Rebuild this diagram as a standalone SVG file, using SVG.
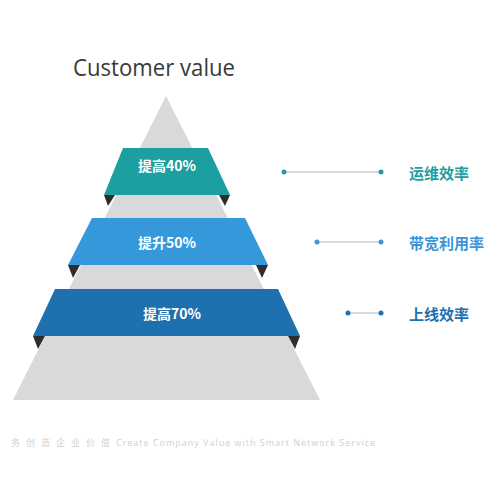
<svg xmlns="http://www.w3.org/2000/svg" width="500" height="500" viewBox="0 0 500 500">
  <style>
    .band-label { font-family: "Noto Sans CJK SC", "Noto Sans", sans-serif; font-weight: bold; font-size: 14px; fill: #ffffff; text-anchor: middle; dominant-baseline: central; }
    .side-label { font-family: "Noto Sans CJK SC", "Noto Sans", sans-serif; font-weight: bold; font-size: 15px; dominant-baseline: central; }
    .fold { fill: #2e2e30; }
    .conn { stroke: #cfcfcf; stroke-width: 1.5; fill: none; }
    .footer { font-family: "Open Sans", "Noto Sans CJK SC", sans-serif; font-size: 9px; fill: #d0d0d0; }
  </style>
  <rect width="500" height="500" fill="#ffffff"/>
  <text x="73" y="76" font-family="'Open Sans', 'Noto Sans', sans-serif" font-size="23.5" fill="#3a3a3a" textLength="162" lengthAdjust="spacingAndGlyphs">Customer value</text>
  <g id="pyramid">
    <polygon points="166,96 320,400 13,400" fill="#d9d9d9"/>
  </g>
  <g id="band1">
    <polygon class="fold" points="104,195 115,195 108,206"/>
    <polygon class="fold" points="219,195 230,195 225,206"/>
    <polygon points="123,148 208,148 230,195 104,195" fill="#1c9fa1"/>
    <text class="band-label" x="167" y="165">提高40%</text>
  </g>
  <g id="band2">
    <polygon class="fold" points="68,265 80,265 73,278"/>
    <polygon class="fold" points="256,265 268,265 262,278"/>
    <polygon points="92,218 245,218 268,265 68,265" fill="#3598db"/>
    <text class="band-label" x="167" y="242">提升50%</text>
  </g>
  <g id="band3">
    <polygon class="fold" points="33,336 45,336 38,349"/>
    <polygon class="fold" points="288,336 300,336 295,349"/>
    <polygon points="55,289 278,289 300,336 33,336" fill="#1f70ae"/>
    <text class="band-label" x="172" y="313">提高70%</text>
  </g>
  <g id="connectors">
    <line class="conn" x1="284" y1="172" x2="381" y2="172"/>
    <circle cx="284" cy="172" r="2.5" fill="#1c9fa1"/>
    <circle cx="381" cy="172" r="2.5" fill="#1c9fa1"/>
    <line class="conn" x1="317" y1="242" x2="381" y2="242"/>
    <circle cx="317" cy="242" r="2.5" fill="#3598db"/>
    <circle cx="381" cy="242" r="2.5" fill="#3598db"/>
    <line class="conn" x1="348" y1="313" x2="381" y2="313"/>
    <circle cx="348" cy="313" r="2.5" fill="#1f70ae"/>
    <circle cx="381" cy="313" r="2.5" fill="#1f70ae"/>
  </g>
  <g id="label1"><text class="side-label" x="409" y="172" fill="#1c9fa1">运维效率</text></g>
  <g id="label2"><text class="side-label" x="409" y="242" fill="#3a95d8">带宽利用率</text></g>
  <g id="label3"><text class="side-label" x="409" y="313" fill="#1f70ae">上线效率</text></g>
  <g id="footer">
    <text class="footer" x="11" y="446" letter-spacing="6">务创造企业价值</text>
    <text class="footer" x="116" y="446" textLength="259" lengthAdjust="spacing">Create Company Value with Smart Network Service</text>
  </g>
</svg>
